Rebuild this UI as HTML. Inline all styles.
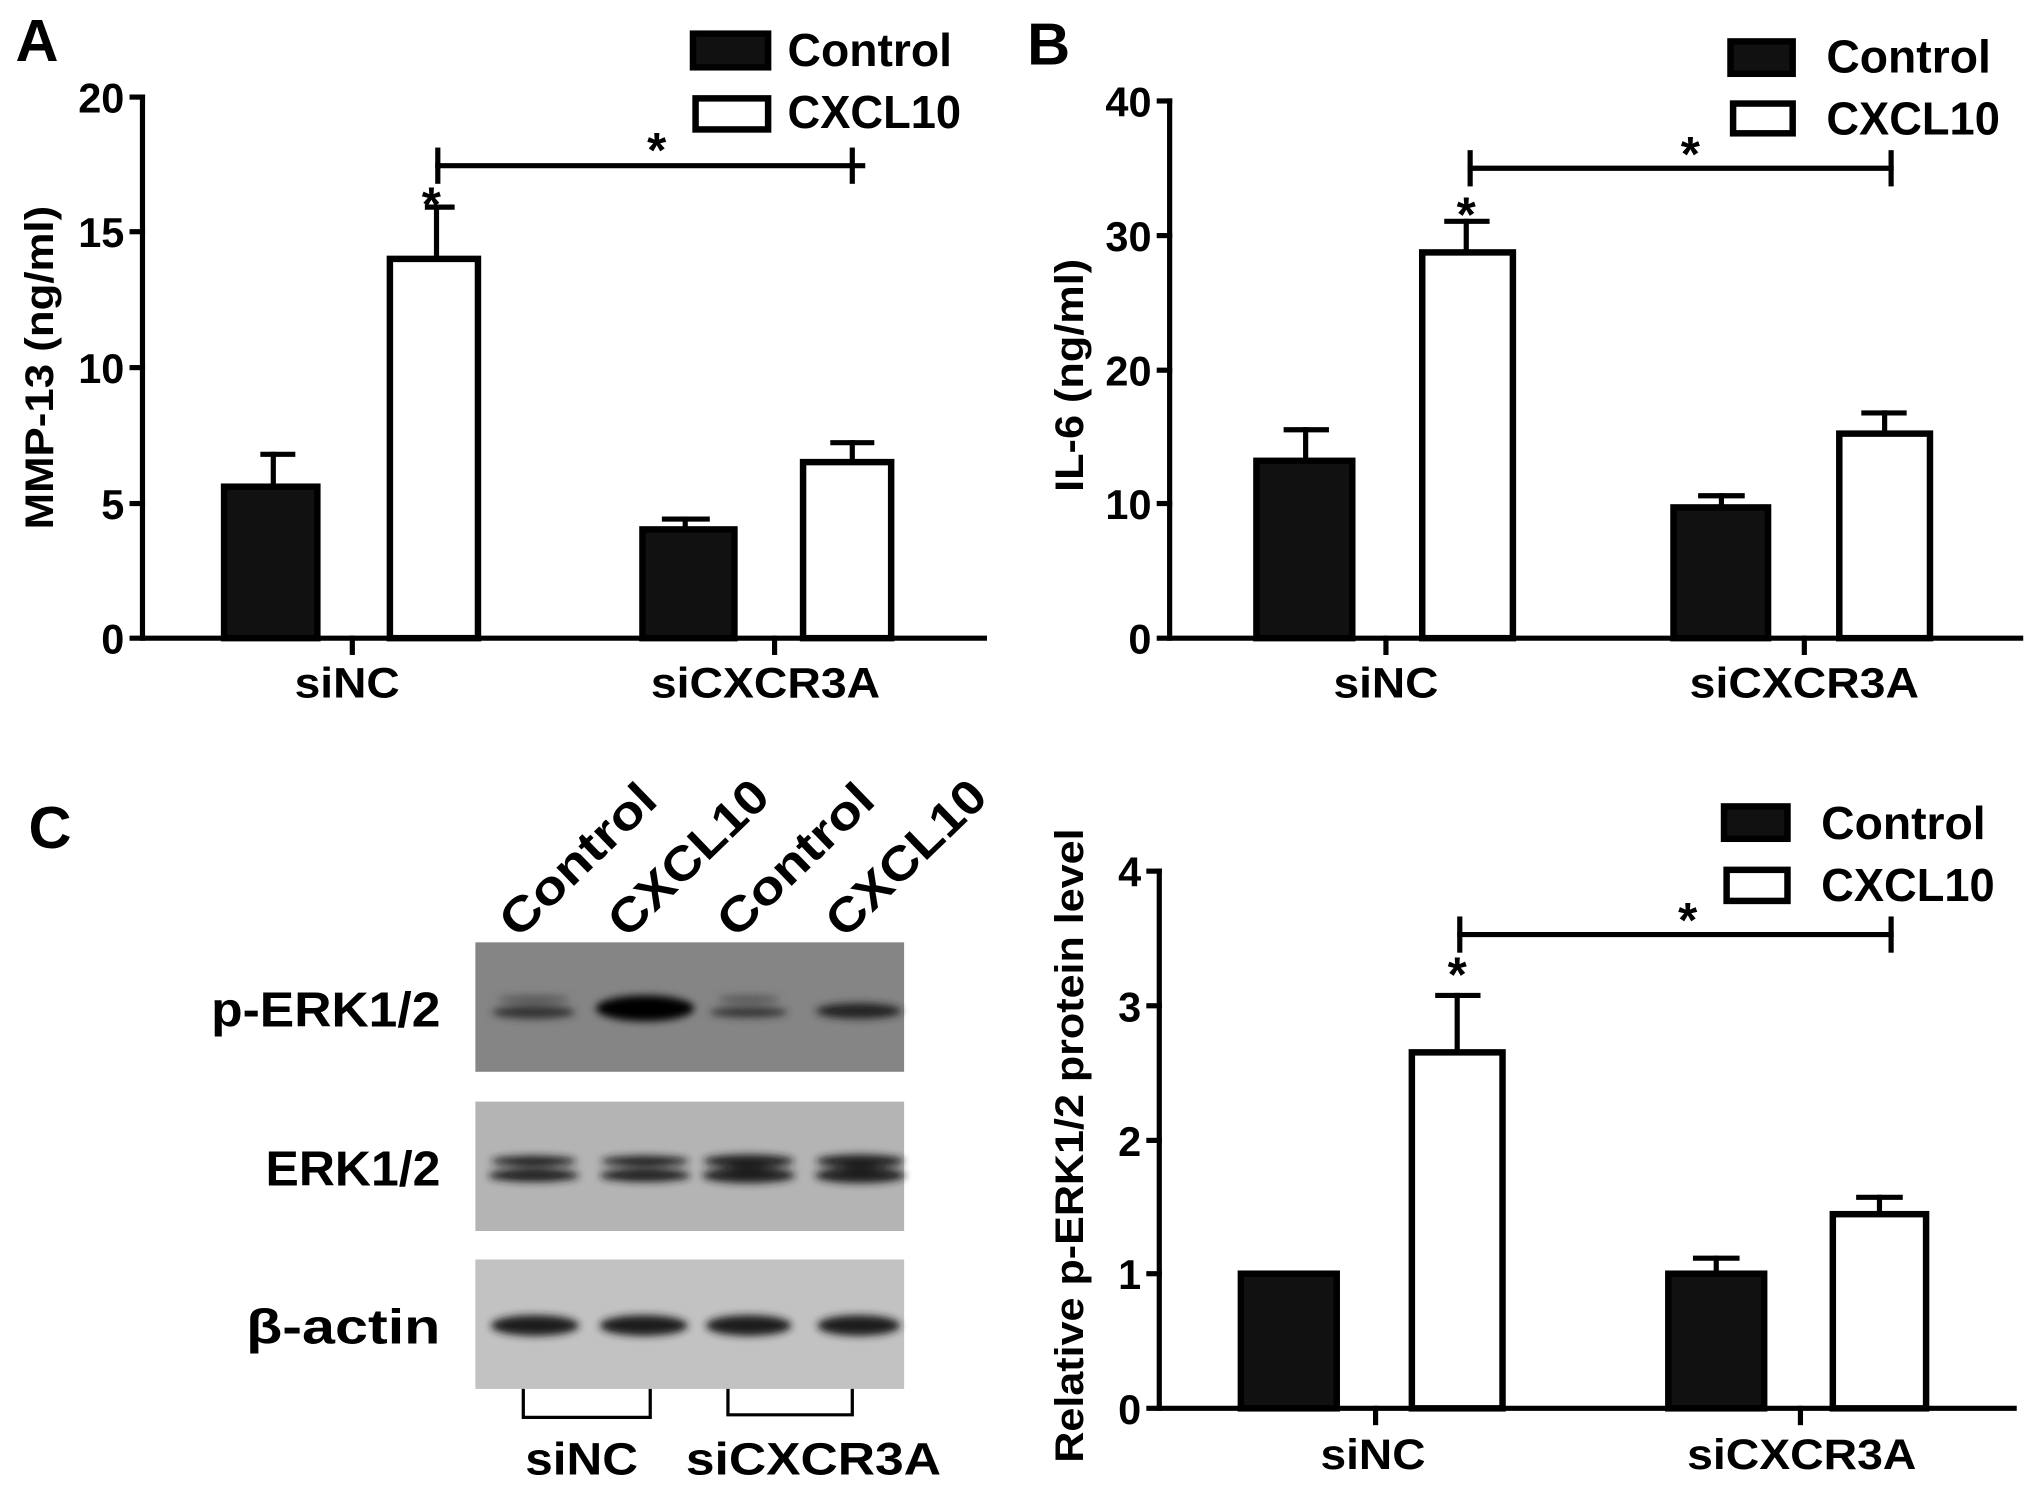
<!DOCTYPE html>
<html><head><meta charset="utf-8"><style>html,body{margin:0;padding:0;background:#fff}svg{display:block}</style></head>
<body>
<svg width="2031" height="1486" viewBox="0 0 1568 1148" preserveAspectRatio="none" xmlns="http://www.w3.org/2000/svg" font-family="Liberation Sans, Arial, sans-serif" font-weight="bold">
<rect width="1568" height="1148" fill="#fff"/>
<g stroke="#000" stroke-width="4" fill="none" stroke-linecap="square">
<line x1="110" y1="75" x2="110" y2="493"/><line x1="102" y1="493" x2="760" y2="493"/>
<line x1="102" y1="75" x2="110" y2="75"/><line x1="102" y1="179" x2="110" y2="179"/><line x1="102" y1="284" x2="110" y2="284"/><line x1="102" y1="389" x2="110" y2="389"/>
<line x1="272" y1="493" x2="272" y2="504"/><line x1="598" y1="493" x2="598" y2="504"/>
<line x1="903" y1="78" x2="903" y2="493"/><line x1="895" y1="493" x2="1560" y2="493"/>
<line x1="895" y1="78" x2="903" y2="78"/><line x1="895" y1="182" x2="903" y2="182"/><line x1="895" y1="286" x2="903" y2="286"/><line x1="895" y1="389" x2="903" y2="389"/>
<line x1="1070" y1="493" x2="1070" y2="504"/><line x1="1393" y1="493" x2="1393" y2="504"/>
<line x1="895" y1="673" x2="895" y2="1088"/><line x1="887" y1="1088" x2="1555" y2="1088"/>
<line x1="887" y1="673" x2="895" y2="673"/><line x1="887" y1="777" x2="895" y2="777"/><line x1="887" y1="881" x2="895" y2="881"/><line x1="887" y1="984" x2="895" y2="984"/>
<line x1="1062" y1="1088" x2="1062" y2="1099"/><line x1="1390" y1="1088" x2="1390" y2="1099"/>
<line x1="211" y1="376" x2="211" y2="351"/><line x1="203" y1="351" x2="226" y2="351"/>
<line x1="337" y1="200" x2="337" y2="160"/><line x1="330" y1="160" x2="349" y2="160"/>
<line x1="529" y1="409" x2="529" y2="401"/><line x1="513" y1="401" x2="546" y2="401"/>
<line x1="658" y1="357" x2="658" y2="342"/><line x1="643" y1="342" x2="673" y2="342"/>
<line x1="338" y1="128" x2="666" y2="128"/><line x1="338" y1="116" x2="338" y2="140"/><line x1="658" y1="116" x2="658" y2="140"/>
<line x1="1008" y1="356" x2="1008" y2="332"/><line x1="993" y1="332" x2="1024" y2="332"/>
<line x1="1132" y1="195" x2="1132" y2="171"/><line x1="1117" y1="171" x2="1148" y2="171"/>
<line x1="1329" y1="392" x2="1329" y2="383"/><line x1="1313" y1="383" x2="1345" y2="383"/>
<line x1="1455" y1="335" x2="1455" y2="319"/><line x1="1439" y1="319" x2="1470" y2="319"/>
<line x1="1135" y1="130" x2="1460" y2="130"/><line x1="1135" y1="118" x2="1135" y2="142"/><line x1="1460" y1="118" x2="1460" y2="142"/>
<line x1="1125" y1="813" x2="1125" y2="769"/><line x1="1110" y1="769" x2="1141" y2="769"/>
<line x1="1325" y1="984" x2="1325" y2="972"/><line x1="1309" y1="972" x2="1341" y2="972"/>
<line x1="1451" y1="938" x2="1451" y2="925"/><line x1="1435" y1="925" x2="1467" y2="925"/>
<line x1="1127" y1="722" x2="1460" y2="722"/><line x1="1127" y1="710" x2="1127" y2="734"/><line x1="1460" y1="710" x2="1460" y2="734"/>
</g>
<g stroke="#000" stroke-width="5">
<rect x="173" y="376" width="72" height="117" fill="#111"/>
<rect x="301" y="200" width="68" height="293" fill="#fff"/>
<rect x="496" y="409" width="71" height="84" fill="#111"/>
<rect x="620" y="357" width="68" height="136" fill="#fff"/>
<rect x="970" y="356" width="74" height="137" fill="#111"/>
<rect x="1098" y="195" width="70" height="298" fill="#fff"/>
<rect x="1292" y="392" width="73" height="101" fill="#111"/>
<rect x="1420" y="335" width="70" height="158" fill="#fff"/>
<rect x="958" y="984" width="74" height="104" fill="#111"/>
<rect x="1090" y="813" width="70" height="275" fill="#fff"/>
<rect x="1288" y="984" width="74" height="104" fill="#111"/>
<rect x="1415" y="938" width="72" height="150" fill="#fff"/>
<rect x="535" y="26" width="58" height="26" fill="#111"/><rect x="537" y="76" width="56" height="24" fill="#fff"/>
<rect x="1336" y="32" width="48" height="25" fill="#111"/><rect x="1338" y="80" width="46" height="23" fill="#fff"/>
<rect x="1331" y="623" width="49" height="25" fill="#111"/><rect x="1333" y="672" width="47" height="24" fill="#fff"/>
</g>
<g font-size="36" fill="#000">
<text x="608" y="51" textLength="127" lengthAdjust="spacingAndGlyphs">Control</text><text x="608" y="99" textLength="134" lengthAdjust="spacingAndGlyphs">CXCL10</text>
<text x="1410" y="56" textLength="127" lengthAdjust="spacingAndGlyphs">Control</text><text x="1410" y="104" textLength="134" lengthAdjust="spacingAndGlyphs">CXCL10</text>
<text x="1406" y="648" textLength="127" lengthAdjust="spacingAndGlyphs">Control</text><text x="1406" y="696" textLength="134" lengthAdjust="spacingAndGlyphs">CXCL10</text>
</g>
<g font-size="46">
<text x="12" y="47">A</text><text x="793" y="50">B</text><text x="22" y="655">C</text>
</g>
<g font-size="32" text-anchor="end">
<text x="96" y="87">20</text><text x="96" y="191">15</text><text x="96" y="296">10</text><text x="96" y="401">5</text><text x="96" y="505">0</text>
<text x="889" y="90">40</text><text x="889" y="194">30</text><text x="889" y="298">20</text><text x="889" y="401">10</text><text x="889" y="505">0</text>
<text x="881" y="685">4</text><text x="881" y="789">3</text><text x="881" y="893">2</text><text x="881" y="996">1</text><text x="881" y="1100">0</text>
</g>
<g font-size="33" text-anchor="middle" lengthAdjust="spacingAndGlyphs">
<text x="268" y="539" textLength="81" lengthAdjust="spacingAndGlyphs">siNC</text><text x="591" y="539" textLength="177" lengthAdjust="spacingAndGlyphs">siCXCR3A</text>
<text x="1070" y="539" textLength="81" lengthAdjust="spacingAndGlyphs">siNC</text><text x="1393" y="539" textLength="177" lengthAdjust="spacingAndGlyphs">siCXCR3A</text>
<text x="1060" y="1135" textLength="81" lengthAdjust="spacingAndGlyphs">siNC</text><text x="1391" y="1135" textLength="177" lengthAdjust="spacingAndGlyphs">siCXCR3A</text>
<text x="449" y="1139" font-size="35" textLength="87" lengthAdjust="spacingAndGlyphs">siNC</text><text x="628" y="1139" font-size="35" textLength="197" lengthAdjust="spacingAndGlyphs">siCXCR3A</text>
</g>
<g font-size="38" text-anchor="middle">
<text x="507" y="129">*</text><text x="333" y="171">*</text>
<text x="1305" y="132">*</text><text x="1132" y="179">*</text>
<text x="1303" y="724">*</text><text x="1125" y="766">*</text>
</g>
<g font-size="31" text-anchor="middle">
<text transform="translate(41,284) rotate(-90)" textLength="250" lengthAdjust="spacingAndGlyphs">MMP-13 (ng/ml)</text>
<text transform="translate(836,290) rotate(-90)" textLength="180" lengthAdjust="spacingAndGlyphs">IL-6 (ng/ml)</text>
<text transform="translate(836,885) rotate(-90)" textLength="490" lengthAdjust="spacingAndGlyphs">Relative p-ERK1/2 protein level</text>
</g>
<defs><filter id="b" x="-20%" y="-50%" width="140%" height="200%"><feGaussianBlur stdDeviation="3"/></filter></defs>
<rect x="367" y="728" width="331" height="100" fill="#858585"/>
<rect x="367" y="851" width="331" height="100" fill="#b4b4b4"/>
<rect x="367" y="973" width="331" height="100" fill="#c2c2c2"/>
<g fill="#1a1a1a" filter="url(#b)">
<ellipse cx="412" cy="782" rx="32" ry="5" fill="#333"/><ellipse cx="412" cy="772" rx="28" ry="3" fill="#555"/>
<ellipse cx="498" cy="779" rx="38" ry="10" fill="#000"/>
<ellipse cx="578" cy="782" rx="30" ry="4" fill="#333"/><ellipse cx="578" cy="772" rx="24" ry="3" fill="#555"/>
<ellipse cx="663" cy="781" rx="33" ry="6" fill="#222"/>
<ellipse cx="412" cy="897" rx="33" ry="4"/><ellipse cx="412" cy="908" rx="35" ry="5"/>
<ellipse cx="498" cy="897" rx="34" ry="4"/><ellipse cx="498" cy="908" rx="35" ry="5"/>
<ellipse cx="578" cy="897" rx="35" ry="5"/><ellipse cx="578" cy="908" rx="36" ry="6"/>
<ellipse cx="664" cy="897" rx="34" ry="5"/><ellipse cx="664" cy="908" rx="35" ry="6"/>
<ellipse cx="413" cy="1024" rx="34" ry="8"/><ellipse cx="497" cy="1024" rx="34" ry="8"/><ellipse cx="578" cy="1024" rx="33" ry="8"/><ellipse cx="663" cy="1024" rx="32" ry="8"/>
</g>
<g stroke="#000" stroke-width="2.5" fill="none">
<polyline points="404,1073 404,1095 502,1095 502,1073"/>
<polyline points="562,1073 562,1093 658,1093 658,1073"/>
</g>
<g font-size="38" text-anchor="end">
<text x="340" y="793" textLength="177" lengthAdjust="spacingAndGlyphs">p-ERK1/2</text><text x="340" y="916" textLength="135" lengthAdjust="spacingAndGlyphs">ERK1/2</text><text x="340" y="1038" textLength="150" lengthAdjust="spacingAndGlyphs">β-actin</text>
</g>
<g font-size="37">
<text transform="translate(400,726) rotate(-44)" textLength="152" lengthAdjust="spacingAndGlyphs">Control</text>
<text transform="translate(484,726) rotate(-44)" textLength="156" lengthAdjust="spacingAndGlyphs">CXCL10</text>
<text transform="translate(568,726) rotate(-44)" textLength="152" lengthAdjust="spacingAndGlyphs">Control</text>
<text transform="translate(652,726) rotate(-44)" textLength="156" lengthAdjust="spacingAndGlyphs">CXCL10</text>
</g>
</svg>
</body></html>
